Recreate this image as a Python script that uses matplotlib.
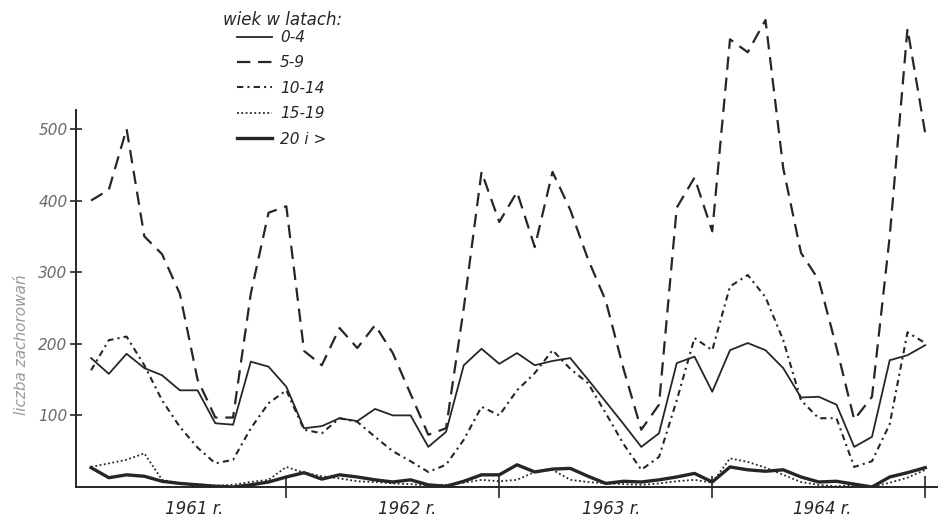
import numpy as np
import matplotlib.pyplot as plt

# monthly cases, Jan 1961 .. Dec 1964
months = np.arange(48)

age_0_4 = [180, 158, 186, 166, 156, 135, 135, 89, 87, 175, 168, 140,
           82, 85, 96, 92, 109, 100, 100, 56, 77, 170, 193, 172,
           187, 170, 176, 180, 150, 119, 88, 56, 75, 173, 182, 133,
           191, 201, 191, 166, 125, 126, 115, 56, 70, 177, 184, 198]

age_5_9 = [400, 415, 500, 350, 325, 270, 150, 97, 97, 270, 383, 392,
           190, 170, 222, 194, 226, 187, 130, 73, 82, 250, 440, 370,
           412, 335, 440, 387, 318, 260, 165, 80, 115, 390, 432, 357,
           625, 607, 652, 445, 327, 289, 195, 94, 126, 350, 640, 494]

age_10_14 = [163, 205, 210, 170, 121, 84, 55, 33, 38, 82, 117, 135,
             80, 75, 96, 91, 70, 50, 36, 21, 31, 66, 112, 100,
             135, 159, 191, 165, 145, 103, 60, 24, 42, 121, 208, 191,
             280, 296, 265, 205, 121, 96, 96, 28, 36, 88, 216, 201]

age_15_19 = [28, 33, 38, 47, 10, 5, 4, 2, 3, 7, 10, 28,
             20, 15, 12, 8, 7, 5, 4, 2, 3, 6, 10, 8,
             10, 21, 24, 10, 7, 5, 4, 3, 5, 8, 10, 6,
             40, 35, 27, 17, 7, 3, 1, 3, 0, 6, 13, 24]

age_20_up = [27, 13, 17, 15, 8, 5, 3, 1, 0, 3, 7, 14,
             20, 11, 17, 14, 10, 7, 10, 3, 1, 8, 17, 17,
             31, 21, 25, 26, 15, 5, 8, 7, 10, 14, 19, 7,
             28, 24, 22, 24, 14, 7, 8, 4, 0, 14, 20, 27]

year_ticks = [11, 23, 35, 47]
year_label_pos = [5.8, 17.8, 29.3, 41.2]
year_labels = ["1961 r.", "1962 r.", "1963 r.", "1964 r."]
y_ticks = [100, 200, 300, 400, 500]

ink = "#262626"
grey = "#6a6a6a"

fig = plt.figure(figsize=(9.38, 5.2), dpi=100)
ax = fig.add_axes([76 / 938, 1 - 487 / 520, 1 - 76 / 938, 477 / 520])
ax.set_xlim(-0.85, 47.72)
ax.set_ylim(0, 666)

ax.plot(months, age_0_4, color=ink, lw=1.3, label="0-4")
ax.plot(months, age_5_9, color=ink, lw=1.6, dashes=(6, 3.5), label="5-9")
ax.plot(months, age_10_14, color=ink, lw=1.5, dashes=(3, 2, 1, 2), label="10-14")
ax.plot(months, age_15_19, color=ink, lw=1.3, dashes=(1, 1.4), label="15-19")
ax.plot(months, age_20_up, color=ink, lw=2.4, label="20 i >")

for side in ("top", "right"):
    ax.spines[side].set_visible(False)
ax.spines["left"].set_bounds(0, 526)
for side in ("left", "bottom"):
    ax.spines[side].set_linewidth(1.4)
    ax.spines[side].set_color(ink)

ax.set_yticks(y_ticks)
ax.set_yticklabels([str(v) for v in y_ticks], fontstyle="italic",
                   fontsize=11, color=grey)
ax.tick_params(axis="y", direction="inout", length=8, width=1.2,
               color=ink, pad=2)

ax.set_xticks(year_ticks)
ax.set_xticklabels([])
ax.tick_params(axis="x", which="major", direction="inout", length=16,
               width=1.2, color=ink)
ax.set_xticks(year_label_pos, minor=True)
ax.set_xticklabels(year_labels, minor=True, fontstyle="italic",
                   fontsize=12, color=ink)
ax.tick_params(axis="x", which="minor", length=0, pad=9)

fig.text(22 / 938, 1 - 345 / 520, "liczba zachorowań", rotation=90,
         ha="center", va="center", fontstyle="italic", fontsize=11,
         color="#9a9a9a")

fig.text(223 / 938, 1 - 20 / 520, "wiek w latach:", ha="left", va="center",
         fontstyle="italic", fontsize=12, color=ink)
fig.legend(loc="upper left", bbox_to_anchor=(237 / 938, 1 - 30 / 520),
           frameon=False, borderpad=0, borderaxespad=0, handlelength=2.3,
           handletextpad=0.5, labelspacing=0.68,
           prop={"style": "italic", "size": 11}, labelcolor=ink)

fig.savefig("out.png", dpi=100, facecolor="white")
